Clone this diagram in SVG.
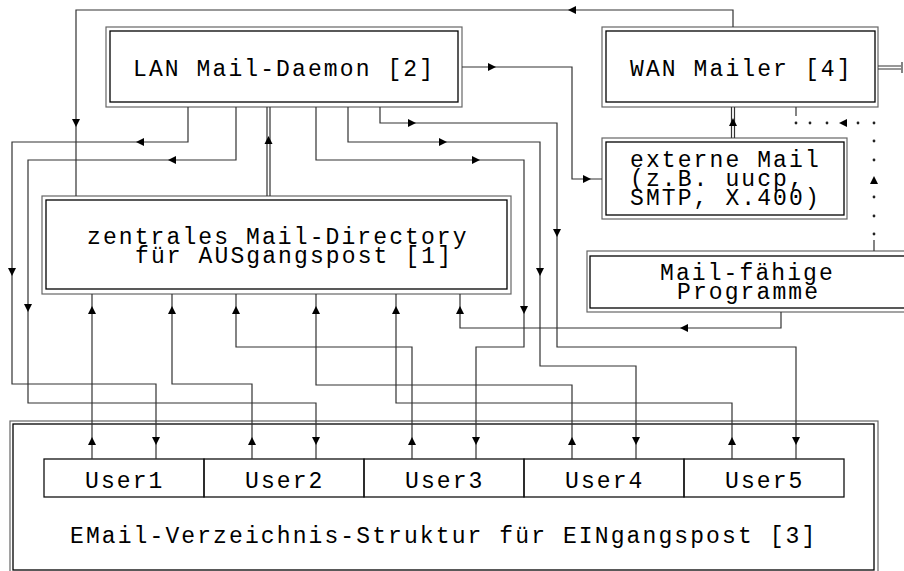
<svg xmlns="http://www.w3.org/2000/svg" xmlns:xlink="http://www.w3.org/1999/xlink" width="904" height="571" viewBox="0 0 904 571">
<style>
.ln{fill:none;stroke:#333;stroke-width:1.2}
.bo{fill:none;stroke:#666;stroke-width:1.2}
.bi{fill:none;stroke:#000;stroke-width:1.3}
.ub{fill:none;stroke:#111;stroke-width:1.3}
.t{font-family:"Liberation Mono","DejaVu Sans Mono",monospace;font-size:23px;letter-spacing:2.1px;fill:#000}
.ah{fill:#000}
.dt{fill:#222}
</style>
<defs>
<path id="ad" d="M-4,-4H4L0,4Z"/>
<path id="au" d="M-4,4H4L0,-4Z"/>
<path id="al" d="M4,-4V4L-4,0Z"/>
<path id="ar" d="M-4,-4V4L4,0Z"/>
</defs>
<rect width="904" height="571" fill="#fff"/>

<g id="lan">
<rect class="bo" x="106" y="27" width="356" height="80"/>
<rect class="bi" x="110" y="31" width="348" height="71"/>
<text class="t" x="133" y="76">LAN Mail-Daemon [2]</text>
</g>
<g id="wan">
<rect class="bo" x="602" y="27" width="276" height="80"/>
<rect class="bi" x="606" y="31" width="269" height="71"/>
<text class="t" x="630" y="76">WAN Mailer [4]</text>
</g>
<g id="extern">
<rect class="bo" x="602" y="138" width="245" height="81"/>
<rect class="bi" x="606" y="142" width="238" height="73"/>
<text class="t" x="630" y="167">externe Mail</text>
<text class="t" x="630" y="186">(z.B. uucp,</text>
<text class="t" x="630" y="205">SMTP, X.400)</text>
</g>
<g id="zentral">
<rect class="bo" x="42" y="196" width="469" height="98"/>
<rect class="bi" x="46" y="200" width="461" height="89"/>
<text class="t" x="87" y="244">zentrales Mail-Directory</text>
<text class="t" x="135" y="263">für AUSgangspost [1]</text>
</g>
<g id="programme">
<rect class="bo" x="587" y="251" width="330" height="61"/>
<rect class="bi" x="590" y="256" width="322" height="52"/>
<text class="t" x="660" y="280">Mail-fähige</text>
<text class="t" x="677" y="299">Programme</text>
</g>
<g id="eingang">
<rect class="bo" x="10" y="421" width="868" height="155"/>
<rect class="bi" x="13" y="424" width="861" height="146"/>
<text class="t" x="70" y="543">EMail-Verzeichnis-Struktur für EINgangspost [3]</text>
</g>
<g id="user1"><rect class="ub" x="44" y="459" width="160" height="38"/><text class="t" x="85" y="488">User1</text></g>
<g id="user2"><rect class="ub" x="204" y="459" width="160" height="38"/><text class="t" x="245" y="488">User2</text></g>
<g id="user3"><rect class="ub" x="364" y="459" width="160" height="38"/><text class="t" x="405" y="488">User3</text></g>
<g id="user4"><rect class="ub" x="524" y="459" width="160" height="38"/><text class="t" x="565" y="488">User4</text></g>
<g id="user5"><rect class="ub" x="684" y="459" width="160" height="38"/><text class="t" x="725" y="488">User5</text></g>

<g id="connectors">
<path class="ln" d="M733,27V10H76V196"/>
<path class="ln" d="M462,67H572V179H602"/>
<path class="ln" d="M267,107V196M270,107V196"/>
<path class="ln" d="M731.5,107V138M734.5,107V138"/>
<path class="ln" d="M878,66H901M878,69H901M902,62V73"/>
<path class="ln" d="M796,107V116M874,240V251"/>
<path class="ln" d="M188,107V142H12V384H156V459"/>
<path class="ln" d="M236,107V160H28V403H316V459"/>
<path class="ln" d="M316,107V160H524V347H476V459"/>
<path class="ln" d="M348,107V142H540V366H636V459"/>
<path class="ln" d="M380,107V123H557V347H796V459"/>
<path class="ln" d="M92,459V294"/>
<path class="ln" d="M252,459V384H172V294"/>
<path class="ln" d="M412,459V347H236V294"/>
<path class="ln" d="M572,459V385H316V294"/>
<path class="ln" d="M732,459V403H396V294"/>
<path class="ln" d="M781,312V328H460V294"/>
<g class="dt">
<circle cx="796" cy="123" r="1.4"/><circle cx="810" cy="123" r="1.4"/><circle cx="827" cy="123" r="1.4"/><circle cx="858" cy="123" r="1.4"/><circle cx="874" cy="123" r="1.4"/>
<circle cx="874" cy="141" r="1.4"/><circle cx="874" cy="160" r="1.4"/><circle cx="874" cy="197" r="1.4"/><circle cx="874" cy="216" r="1.4"/><circle cx="874" cy="234" r="1.4"/>
</g>
<g class="ah">
<use xlink:href="#al" x="572" y="10"/>
<use xlink:href="#ad" x="76" y="123"/>
<use xlink:href="#ar" x="492" y="67"/>
<use xlink:href="#ar" x="587" y="179"/>
<use xlink:href="#al" x="140" y="142"/>
<use xlink:href="#al" x="172" y="160"/>
<use xlink:href="#au" x="268.5" y="140"/>
<use xlink:href="#ar" x="412" y="123"/>
<use xlink:href="#ar" x="443" y="142"/>
<use xlink:href="#ar" x="476" y="160"/>
<use xlink:href="#ad" x="12" y="272"/>
<use xlink:href="#ad" x="28" y="308"/>
<use xlink:href="#ad" x="524" y="310"/>
<use xlink:href="#ad" x="540" y="272"/>
<use xlink:href="#ad" x="557" y="233"/>
<use xlink:href="#au" x="733" y="122"/>
<use xlink:href="#al" x="843" y="123"/>
<use xlink:href="#au" x="874" y="180"/>
<use xlink:href="#au" x="92" y="310"/>
<use xlink:href="#au" x="172" y="310"/>
<use xlink:href="#au" x="236" y="310"/>
<use xlink:href="#au" x="316" y="310"/>
<use xlink:href="#au" x="396" y="310"/>
<use xlink:href="#au" x="460" y="310"/>
<use xlink:href="#al" x="684" y="328"/>
<use xlink:href="#au" x="92" y="441"/>
<use xlink:href="#au" x="252" y="441"/>
<use xlink:href="#au" x="412" y="441"/>
<use xlink:href="#au" x="572" y="441"/>
<use xlink:href="#au" x="732" y="441"/>
<use xlink:href="#ad" x="156" y="441"/>
<use xlink:href="#ad" x="316" y="441"/>
<use xlink:href="#ad" x="476" y="441"/>
<use xlink:href="#ad" x="636" y="441"/>
<use xlink:href="#ad" x="796" y="441"/>
</g>
</g>
</svg>
